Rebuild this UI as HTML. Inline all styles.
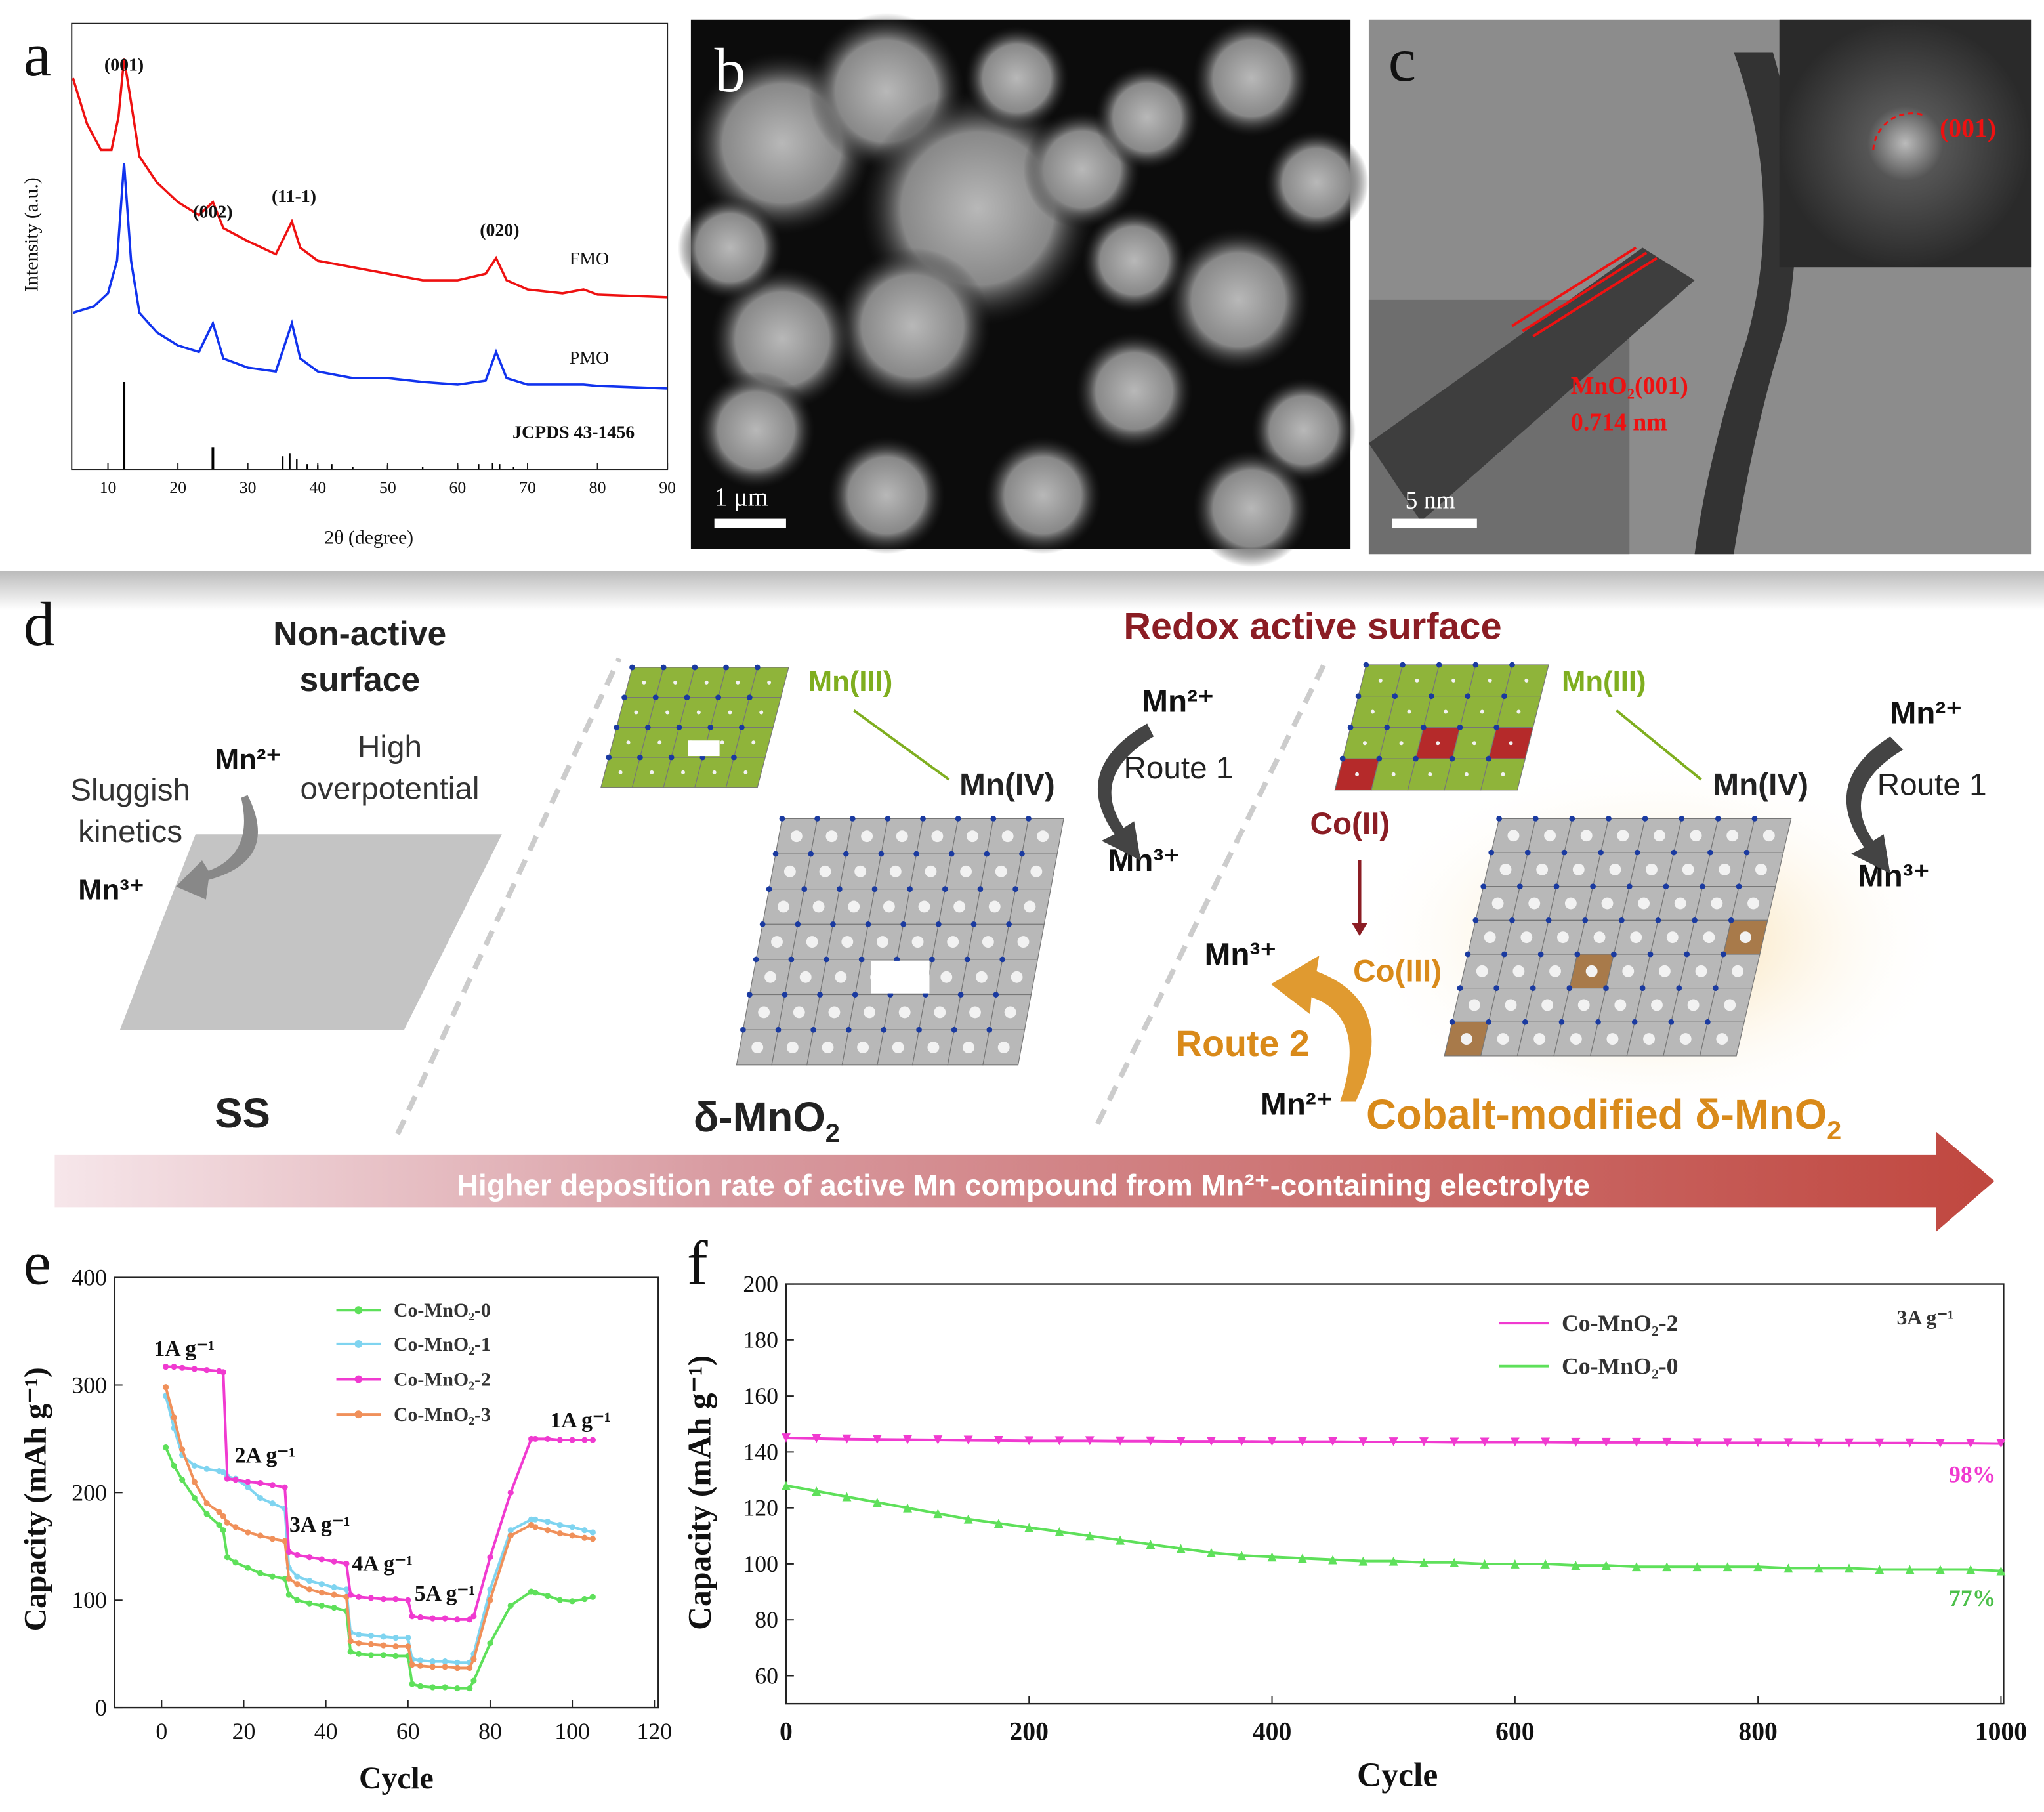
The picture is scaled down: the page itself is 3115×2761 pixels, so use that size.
<!DOCTYPE html>
<html><head><meta charset="utf-8"><style>
html,body{margin:0;padding:0;background:#fff;}
svg{display:block;}
</style></head><body>
<svg id="fig" width="3115" height="2761" viewBox="0 0 1568 1390" preserveAspectRatio="none" xmlns="http://www.w3.org/2000/svg">
<defs>
<linearGradient id="sep" x1="0" y1="0" x2="0" y2="1"><stop offset="0" stop-color="#bbb"/><stop offset="1" stop-color="#fff"/></linearGradient>
<linearGradient id="arrowg" x1="0" y1="0" x2="1" y2="0"><stop offset="0" stop-color="#f6e6ea"/><stop offset="0.35" stop-color="#d89aa0"/><stop offset="1" stop-color="#c0473f"/></linearGradient>
<radialGradient id="glow" cx="0.5" cy="0.5" r="0.5"><stop offset="0" stop-color="#f7d9a0"/><stop offset="1" stop-color="#fff" stop-opacity="0"/></radialGradient>
<radialGradient id="blob" cx="0.5" cy="0.5" r="0.5"><stop offset="0" stop-color="#b8b8b8"/><stop offset="0.65" stop-color="#888"/><stop offset="1" stop-color="#202020" stop-opacity="0"/></radialGradient>
<radialGradient id="fft" cx="0.5" cy="0.5" r="0.5"><stop offset="0" stop-color="#bbb"/><stop offset="0.3" stop-color="#555"/><stop offset="1" stop-color="#2a2a2a"/></radialGradient>
</defs>
<g id="pa"></g>
<g id="pb"></g>
<g id="pc"></g>
<g id="pd"></g>
<g id="pe"></g>
<g id="pf"></g>
</svg>
<script>
// ---------- Panel a data ----------
const xrdTheta = [5,7,9,10.5,11.5,12.3,13.2,14.5,17,20,23,25,26.5,30,34,36.3,37.5,40,45,50,55,60,64,65.5,67,70,75,78,80,90];
const xrdFMO = [300,265,245,245,270,315,285,240,220,205,195,205,185,175,165,190,170,160,155,150,145,145,150,162,145,138,135,138,134,132];
const pmoTheta = [5,8,10,11.3,12.3,13.3,14.5,17,20,23,25,26.5,30,34,36.3,37.5,40,45,50,55,60,64,65.5,67,70,78,80,90];
const xrdPMO = [120,125,135,160,235,160,120,105,95,90,112,85,78,75,112,85,75,70,70,67,65,68,90,70,65,65,64,62];
const stickPos = [12.3,25,35,36,37,38.5,40,42,45,50,55,60,63,65,66,68];
const stickH = [67,17,10,12,8,4,3,4,2,3,2,3,4,5,4,2];
const xrdTicks = [10,20,30,40,50,60,70,80,90];
const xrdPeakLabels = ["(001)","(002)","(11-1)","(020)"];
const xrdPeakPos = [12.3,25,36.6,66];

// ---------- Panel e data ----------
const rateCycles = [1,3,5,8,11,14,15,16,18,21,24,27,30,31,33,36,39,42,45,46,48,51,54,57,60,61,63,66,69,72,75,76,80,85,90,91,94,97,100,103,105];
const rateCo0 = [242,225,212,195,180,170,165,140,135,130,125,122,120,105,100,97,95,93,90,52,50,49,49,48,48,22,20,19,19,18,18,25,60,95,108,107,104,100,99,101,103];
const rateCo1 = [290,260,235,225,222,220,219,215,213,205,195,190,185,130,122,118,115,112,110,70,68,67,66,65,65,45,44,43,43,42,42,50,110,165,175,175,173,170,168,165,163];
const rateCo2 = [317,317,316,315,314,313,312,213,212,210,209,207,205,145,142,140,138,136,134,105,103,102,101,101,100,85,84,83,83,82,82,85,140,200,250,250,250,249,249,249,249];
const rateCo3 = [298,270,240,210,190,182,178,172,168,163,160,157,155,120,115,110,107,105,103,62,60,59,58,57,57,40,39,38,38,37,37,45,100,160,170,168,165,162,160,158,157];
const rateXTicks = [0,20,40,60,80,100,120];
const rateYTicks = [0,100,200,300,400];

// ---------- Panel f data ----------
const cycN = [0,25,50,75,100,125,150,175,200,225,250,275,300,325,350,375,400,425,450,475,500,525,550,575,600,625,650,675,700,725,750,775,800,825,850,875,900,925,950,975,1000];
const cycCo2 = [145,144.8,144.6,144.5,144.4,144.3,144.2,144.1,144,144,144,143.9,143.9,143.8,143.8,143.8,143.7,143.7,143.7,143.6,143.6,143.6,143.5,143.5,143.5,143.5,143.4,143.4,143.4,143.4,143.3,143.3,143.3,143.3,143.2,143.2,143.2,143.2,143.1,143.1,143];
const cycCo0 = [128,126,124,122,120,118,116,114.5,113,111.5,110,108.5,107,105.5,104,103,102.5,102,101.5,101,101,100.5,100.5,100,100,100,99.5,99.5,99,99,99,99,99,98.5,98.5,98.5,98,98,98,98,97.5];
const cycXTicks = [0,200,400,600,800,1000];
const cycYTicks = [60,80,100,120,140,160,180,200];

const NS = "http://www.w3.org/2000/svg";
function mk(parent, tag, attrs, text){
  const e = document.createElementNS(NS, tag);
  for (const k in attrs) e.setAttribute(k, attrs[k]);
  if (text !== undefined) e.textContent = text;
  parent.appendChild(e);
  return e;
}
function txt(parent, x, y, s, size, opts){
  opts = opts || {};
  const t = mk(parent, "text", {x:x, y:y, "font-size":size, fill:opts.fill||"#111",
    "font-family": opts.sans ? '"Liberation Sans",sans-serif' : '"Liberation Serif",serif',
    "font-weight": opts.bold ? "bold" : "normal", "text-anchor": opts.anchor||"start"}, s);
  if (opts.rot) t.setAttribute("transform", "rotate(" + opts.rot + " " + x + " " + y + ")");
  return t;
}

// ================= Panel A =================
(function(){
  const g = document.getElementById("pa");
  const L=55, R=512, T=18, B=360;
  const xs = v => 56 + (v-5)*(R-56)/85;
  const ys = v => B - v;
  const box = mk(g,"rect",{x:L,y:T,width:R-L,height:B-T,fill:"none",stroke:"#222","stroke-width":1});
  
  
  let d = xrdTheta.map((t,i)=>(i?"L":"M")+xs(t)+" "+ys(xrdFMO[i])).join(" ");
  const f = mk(g,"path",{d:d,fill:"none",stroke:"#ee1111","stroke-width":1.8});
  
  
  d = pmoTheta.map((t,i)=>(i?"L":"M")+xs(t)+" "+ys(xrdPMO[i])).join(" ");
  const p = mk(g,"path",{d:d,fill:"none",stroke:"#1133ee","stroke-width":1.8});
  
  
  stickPos.forEach((s,i)=>{
    const l = mk(g,"line",{x1:xs(s),x2:xs(s),y1:B,y2:B-stickH[i],stroke:"#000","stroke-width":i<2?2:1.2});
    
    
  });
  xrdTicks.forEach(v=>{
    mk(g,"line",{x1:xs(v),x2:xs(v),y1:B,y2:B-5,stroke:"#222"});
    const t = txt(g,xs(v),B+18,String(v),13,{anchor:"middle"});
    
    
  });
  const pl = [54,167,155,181];
  xrdPeakLabels.forEach((s,i)=>{
    const t = txt(g,xs(xrdPeakPos[i]),pl[i],s,14,{anchor:"middle",bold:true});
    
    
  });
  let t = txt(g,452,203,"FMO",14,{anchor:"middle"});  
  t = txt(g,452,279,"PMO",14,{anchor:"middle"});  
  t = txt(g,440,336,"JCPDS 43-1456",14,{anchor:"middle",bold:true});  
  t = txt(g,283,417,"2θ (degree)",15,{anchor:"middle"});  
  t = txt(g,29,180,"Intensity (a.u.)",15,{anchor:"middle",rot:-90});  
  t = txt(g,18,58,"a",48,{});  
})();

// ================= Panel B =================
(function(){
  const g = document.getElementById("pb");
  const r = mk(g,"rect",{x:530,y:15,width:506,height:406,fill:"#0c0c0c"});
  
  
  const blobs = [[600,110,70],[680,70,60],[750,160,90],[700,250,60],[600,260,55],[580,330,45],[830,130,45],[880,90,40],[960,60,45],[1010,140,40],[950,230,55],[870,300,45],[1000,330,40],[800,380,45],[680,380,45],[560,190,40],[960,390,45],[780,60,40],[870,200,40]];
  blobs.forEach(b=>{
    const c = mk(g,"circle",{cx:b[0],cy:b[1],r:b[2],fill:"url(#blob)"});
    
    
  });
  mk(g,"rect",{x:548,y:398,width:55,height:7,fill:"#fff"});
  let t = txt(g,548,388,"1 μm",20,{fill:"#fff"});  
  t = txt(g,548,70,"b",48,{fill:"#fff"});  
})();

// ================= Panel C =================
(function(){
  const g = document.getElementById("pc");
  const r = mk(g,"rect",{x:1050,y:15,width:508,height:410,fill:"#8c8c8c"});
  
  
  mk(g,"rect",{x:1050,y:230,width:200,height:195,fill:"#6e6e6e"});
  mk(g,"path",{d:"M1050 340 L1260 190 L1300 215 L1090 400 Z",fill:"#3e3e3e"});
  mk(g,"path",{d:"M1330 40 Q1370 150 1340 260 Q1310 350 1300 425 L1330 425 Q1345 330 1370 250 Q1390 140 1360 40 Z",fill:"#333"});
  mk(g,"rect",{x:1365,y:15,width:193,height:190,fill:"url(#fft)"});
  mk(g,"path",{d:"M1437 115 A30 30 0 0 1 1475 88",fill:"none",stroke:"#e11","stroke-width":1.5,"stroke-dasharray":"4 3"});
  let t = txt(g,1488,105,"(001)",20,{fill:"#e11",bold:true});  
  [[0],[8],[16]].forEach(o=>mk(g,"line",{x1:1160+o[0],y1:250+o[0]*0.5,x2:1255+o[0],y2:190+o[0]*0.5,stroke:"#e11","stroke-width":2}));
  t = txt(g,1250,302,"MnO₂(001)",19,{fill:"#e11",bold:true,anchor:"middle"});  
  t = txt(g,1242,330,"0.714 nm",19,{fill:"#e11",bold:true,anchor:"middle"});  
  mk(g,"rect",{x:1068,y:398,width:65,height:7,fill:"#fff"});
  t = txt(g,1078,390,"5 nm",19,{fill:"#fff"});  
  t = txt(g,1065,62,"c",48,{fill:"#111"});  
})();

// ================= Panel D =================
(function(){
  const g = document.getElementById("pd");
  mk(g,"rect",{x:0,y:438,width:1568,height:30,fill:"url(#sep)"});
  let t = txt(g,18,495,"d",48,{});  
  const lab = (x,y,s,size,opt,name)=>{const e=txt(g,x,y,s,size,Object.assign({sans:true},opt));   return e;};
  lab(276,495,"Non-active",26,{bold:true,anchor:"middle",fill:"#222"},"non-active-title");
  lab(276,530,"surface",26,{bold:true,anchor:"middle",fill:"#222"},"non-active-title-2");
  lab(299,581,"High",24,{anchor:"middle",fill:"#333"},"high-label");
  lab(299,613,"overpotential",24,{anchor:"middle",fill:"#333"},"overpotential-label");
  lab(100,614,"Sluggish",24,{anchor:"middle",fill:"#333"},"sluggish-label");
  lab(100,646,"kinetics",24,{anchor:"middle",fill:"#333"},"kinetics-label");
  lab(165,590,"Mn²⁺",22,{bold:true},"mn2-label-ss");
  lab(60,690,"Mn³⁺",22,{bold:true},"mn3-label-ss");
  const ss = mk(g,"path",{d:"M150 640 L385 640 L310 790 L92 790 Z",fill:"#c4c4c4"});
  
  
  mk(g,"path",{d:"M190 610 Q215 660 160 675 L158 690 L135 680 L155 660 L160 668 Q195 655 185 612 Z",fill:"#888"});
  lab(186,865,"SS",32,{bold:true,anchor:"middle",fill:"#222"},"ss-title");
  mk(g,"line",{x1:305,y1:870,x2:475,y2:505,stroke:"#ccc","stroke-width":4,"stroke-dasharray":"12 8"});
  mk(g,"line",{x1:842,y1:862,x2:1018,y2:505,stroke:"#ccc","stroke-width":4,"stroke-dasharray":"12 8"});
  lab(1007,490,"Redox active surface",29,{bold:true,anchor:"middle",fill:"#8b1d24"},"redox-title");
  function lattice(x0,y0,cols,rows,cw,ch,skew,fill,name,dots){
    const lg = mk(g,"g",{});
    
    
    for(let r=0;r<rows;r++)for(let c=0;c<cols;c++){
      const x=x0+c*cw+r*skew, y=y0+r*ch;
      mk(lg,"path",{d:`M${x} ${y} L${x+cw} ${y} L${x+cw+skew} ${y+ch} L${x+skew} ${y+ch} Z`,fill:(typeof fill==="function"?fill(r,c):fill),stroke:"#777","stroke-width":0.6});
      mk(lg,"circle",{cx:x,cy:y,r:2.2,fill:"#1a3aa0"});
      if(dots) mk(lg,"circle",{cx:x+cw/2+skew/2,cy:y+ch/2,r:dots,fill:"#f2f2f2"});
    }
    return lg;
  }
  lattice(485,512,5,4,24,23,-6,"#8fb43a","green-sheet-1",1.5);
  mk(g,"rect",{x:528,y:568,width:24,height:12,fill:"#fff"});
  lattice(600,628,8,7,27,27,-5,"#b8b8b8","mno2-lattice",4.5);
  mk(g,"rect",{x:668,y:737,width:45,height:25,fill:"#fff"});
  lab(620,530,"Mn(III)",22,{bold:true,fill:"#7fae1f"},"mn3-label-1");
  mk(g,"line",{x1:655,y1:545,x2:728,y2:598,stroke:"#7fae1f","stroke-width":2});
  lab(736,610,"Mn(IV)",24,{bold:true,fill:"#222"},"mn4-label-1");
  lab(876,546,"Mn²⁺",24,{bold:true},"mn2-label-1");
  lab(862,597,"Route 1",24,{fill:"#222"},"route1-label-1");
  lab(850,668,"Mn³⁺",24,{bold:true},"mn3-ion-1");
  mk(g,"path",{d:"M880 555 Q820 590 855 640 L845 645 L875 660 L870 630 L862 635 Q835 595 885 565 Z",fill:"#444"});
  const dm = lab(532,868,"δ-MnO",32,{bold:true,fill:"#222"},"delta-mno2-title");
  mk(dm,"tspan",{"font-size":20,dy:8},"2");
  mk(g,"ellipse",{cx:1270,cy:720,rx:230,ry:140,fill:"url(#glow)"});
  lattice(1048,510,5,4,28,24,-6,(r,c)=>((r===3&&c===0)||(r===2&&c===2)||(r===2&&c===4))?"#b52a2a":"#8fb43a","green-sheet-2",1.5);
  lattice(1150,628,8,7,28,26,-6,(r,c)=>((r===6&&c===0)||(r===4&&c===3)||(r===3&&c===7))?"#a87a4a":"#b8b8b8","co-mno2-lattice",4.5);
  lab(1198,530,"Mn(III)",22,{bold:true,fill:"#7fae1f"},"mn3-label-2");
  mk(g,"line",{x1:1240,y1:545,x2:1305,y2:598,stroke:"#7fae1f","stroke-width":2});
  lab(1314,610,"Mn(IV)",24,{bold:true,fill:"#222"},"mn4-label-2");
  lab(1450,555,"Mn²⁺",24,{bold:true},"mn2-label-2");
  lab(1440,610,"Route 1",24,{fill:"#222"},"route1-label-2");
  lab(1425,680,"Mn³⁺",24,{bold:true},"mn3-ion-2");
  mk(g,"path",{d:"M1450 565 Q1395 600 1430 650 L1420 655 L1450 670 L1445 640 L1437 645 Q1410 605 1460 575 Z",fill:"#444"});
  lab(1005,640,"Co(II)",24,{bold:true,fill:"#8b1d24"},"co2-label");
  mk(g,"line",{x1:1043,y1:660,x2:1043,y2:712,stroke:"#8b1d24","stroke-width":2.5});
  mk(g,"path",{d:"M1037 708 L1049 708 L1043 718 Z",fill:"#8b1d24"});
  lab(1038,753,"Co(III)",24,{bold:true,fill:"#d98a1a"},"co3-label");
  lab(924,740,"Mn³⁺",24,{bold:true},"mn3-ion-3");
  lab(902,810,"Route 2",28,{bold:true,fill:"#d98a1a"},"route2-label");
  lab(967,855,"Mn²⁺",24,{bold:true},"mn2-label-3");
  mk(g,"path",{d:"M1040 845 Q1075 770 1010 745 L1012 733 L975 755 L1005 778 L1006 765 Q1050 780 1028 845 Z",fill:"#e09a30"});
  const cm = lab(1048,866,"Cobalt-modified δ-MnO",32,{bold:true,fill:"#d98a1a"},"cobalt-title");
  mk(cm,"tspan",{"font-size":20,dy:8},"2");
  const ar = mk(g,"path",{d:"M42 886 L1485 886 L1485 868 L1530 906 L1485 945 L1485 926 L42 926 Z",fill:"url(#arrowg)"});
  
  
  lab(785,917,"Higher deposition rate of active Mn compound from Mn²⁺-containing electrolyte",23,{bold:true,fill:"#fff",anchor:"middle"},"arrow-caption");
})();

// ================= Panel E =================
(function(){
  const g = document.getElementById("pe");
  const L=88,R=505,T=980,B=1310;
  const xs = v => 124 + v*(502-124)/120;
  const ys = v => B - v*(B-T)/400;
  mk(g,"rect",{x:L,y:T,width:R-L,height:B-T,fill:"none",stroke:"#222","stroke-width":1.2});
  rateXTicks.forEach(v=>{
    mk(g,"line",{x1:xs(v),x2:xs(v),y1:B,y2:B-6,stroke:"#222"});
    const t=txt(g,xs(v),B+24,String(v),18,{anchor:"middle"});
     
  });
  rateYTicks.forEach(v=>{
    mk(g,"line",{x1:L,x2:L+6,y1:ys(v),y2:ys(v),stroke:"#222"});
    const t=txt(g,L-6,ys(v)+6,String(v),18,{anchor:"end"});
     
  });
  const series=[[rateCo0,"#5ee05a","co-mno2-0"],[rateCo1,"#7fd4f0","co-mno2-1"],[rateCo3,"#f0905a","co-mno2-3"],[rateCo2,"#f03ad0","co-mno2-2"]];
  series.forEach(s=>{
    const d=rateCycles.map((c,i)=>(i?"L":"M")+xs(c)+" "+ys(s[0][i])).join(" ");
    const p=mk(g,"path",{d:d,fill:"none",stroke:s[1],"stroke-width":2});
     
    rateCycles.forEach((c,i)=>{
      const m=mk(g,"circle",{cx:xs(c),cy:ys(s[0][i]),r:2.3,fill:s[1]});
       
    });
  });
  const leg=[["Co-MnO₂-0","#5ee05a",1005],["Co-MnO₂-1","#7fd4f0",1031],["Co-MnO₂-2","#f03ad0",1058],["Co-MnO₂-3","#f0905a",1085]];
  leg.forEach(l=>{
    mk(g,"line",{x1:258,x2:292,y1:l[2],y2:l[2],stroke:l[1],"stroke-width":2});
    mk(g,"circle",{cx:275,cy:l[2],r:3,fill:l[1]});
    const t=txt(g,302,l[2]+5,l[0],15,{bold:true,fill:"#333"});
     
  });
  const rl=[["1A g⁻¹",118,1040],["2A g⁻¹",180,1122],["3A g⁻¹",222,1175],["4A g⁻¹",270,1205],["5A g⁻¹",318,1228],["1A g⁻¹",422,1095]];
  rl.forEach(l=>{const t=txt(g,l[1],l[2],l[0],17,{bold:true});  });
  let t=txt(g,304,1372,"Cycle",24,{bold:true,anchor:"middle"});  
  t=txt(g,35,1150,"Capacity (mAh g⁻¹)",24,{bold:true,anchor:"middle",rot:-90});  
  t=txt(g,18,985,"e",48,{});  
})();

// ================= Panel F =================
(function(){
  const g = document.getElementById("pf");
  const L=603,R=1537,T=985,B=1307;
  const xs = v => L + v*(1535-L)/1000;
  const ys = v => B - (v-50)*(B-T)/150;
  mk(g,"rect",{x:L,y:T,width:R-L,height:B-T,fill:"none",stroke:"#222","stroke-width":1.2});
  cycXTicks.forEach(v=>{
    mk(g,"line",{x1:xs(v),x2:xs(v),y1:B,y2:B-6,stroke:"#222"});
    const t=txt(g,xs(v),B+28,String(v),20,{anchor:"middle",bold:true});
     
  });
  cycYTicks.forEach(v=>{
    mk(g,"line",{x1:L,x2:L+6,y1:ys(v),y2:ys(v),stroke:"#222"});
    const t=txt(g,L-6,ys(v)+6,String(v),18,{anchor:"end"});
     
  });
  const series=[[cycCo2,"#f03ad0","co-mno2-2",-1],[cycCo0,"#5ee05a","co-mno2-0",1]];
  series.forEach(s=>{
    const d=cycN.map((c,i)=>(i?"L":"M")+xs(c)+" "+ys(s[0][i])).join(" ");
    const p=mk(g,"path",{d:d,fill:"none",stroke:s[1],"stroke-width":2});
     
    cycN.forEach((c,i)=>{
      const x=xs(c),y=ys(s[0][i]),k=s[3]*3.5;
      const m=mk(g,"path",{d:`M${x-3.5} ${y+k} L${x+3.5} ${y+k} L${x} ${y-k} Z`,fill:s[1]});
       
    });
  });
  mk(g,"line",{x1:1150,x2:1188,y1:1015,y2:1015,stroke:"#f03ad0","stroke-width":2});
  mk(g,"line",{x1:1150,x2:1188,y1:1048,y2:1048,stroke:"#5ee05a","stroke-width":2});
  let t=txt(g,1198,1021,"Co-MnO₂-2",18,{bold:true,fill:"#333"});  
  t=txt(g,1198,1054,"Co-MnO₂-0",18,{bold:true,fill:"#333"});  
  t=txt(g,1455,1016,"3A g⁻¹",16,{bold:true,fill:"#333"});  
  t=txt(g,1495,1137,"98%",18,{bold:true,fill:"#f03ad0"});  
  t=txt(g,1495,1232,"77%",18,{bold:true,fill:"#4cc04a"});  
  t=txt(g,1072,1370,"Cycle",26,{bold:true,anchor:"middle"});  
  t=txt(g,545,1145,"Capacity (mAh g⁻¹)",25,{bold:true,anchor:"middle",rot:-90});  
  t=txt(g,527,985,"f",48,{});  
})();
</script>
</body></html>
